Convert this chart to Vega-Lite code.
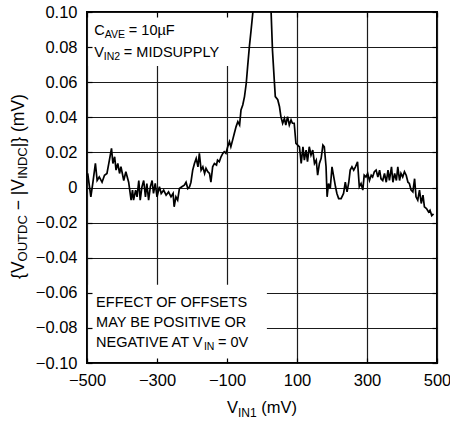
{
  "$schema": "https://vega.github.io/schema/vega-lite/v6.json",
  "width": 350,
  "height": 351,
  "autosize": "none",
  "padding": {"left": 87, "top": 12, "right": 13, "bottom": 59},
  "background": "white",
  "config": {
    "view": {"stroke": "black", "strokeWidth": 2},
    "font": "Liberation Sans",
    "text": {"font": "Liberation Sans", "color": "black", "baseline": "alphabetic", "align": "left"}
  },
  "resolve": {"axis": {"x": "independent", "y": "independent"}},
  "datasets": {
    "curve": [
      {"v":-498,"d":0.008},{"v":-489,"d":-0.0053},{"v":-483,"d":0.003},{"v":-476,"d":0.0137},{"v":-471,"d":0.004},{"v":-465,"d":0.006},{"v":-457,"d":0.003},{"v":-450,"d":0.007},{"v":-443,"d":0.008},{"v":-436,"d":0.0156},{"v":-430,"d":0.0223},{"v":-426,"d":0.0137},{"v":-421,"d":0.0175},{"v":-417,"d":0.0099},{"v":-412,"d":0.0137},{"v":-407,"d":0.008},{"v":-403,"d":0.0118},{"v":-395,"d":0.004},{"v":-389,"d":0.009},{"v":-381,"d":0.003},{"v":-374,"d":-0.0072},{"v":-370,"d":-0.0015},{"v":-367,"d":-0.0072},{"v":-361,"d":-0.0015},{"v":-357,"d":-0.0053},{"v":-352,"d":0.004},{"v":-348,"d":-0.0072},{"v":-343,"d":0.0004},{"v":-338,"d":0.004},{"v":-333,"d":-0.0053},{"v":-329,"d":0.0023},{"v":-324,"d":-0.0072},{"v":-319,"d":0.0004},{"v":-314,"d":0.004},{"v":-310,"d":-0.0034},{"v":-305,"d":0.0023},{"v":-300,"d":-0.0053},{"v":-293,"d":0.0004},{"v":-288,"d":-0.0034},{"v":-281,"d":-0.0015},{"v":-274,"d":-0.0044},{"v":-267,"d":-0.0025},{"v":-260,"d":-0.0053},{"v":-254,"d":-0.0034},{"v":-251,"d":-0.011},{"v":-246,"d":-0.0053},{"v":-241,"d":-0.0072},{"v":-236,"d":-0.0006},{"v":-229,"d":0.0004},{"v":-222,"d":0.0013},{"v":-217,"d":0.003},{"v":-212,"d":-0.0006},{"v":-207,"d":0.0004},{"v":-203,"d":0.003},{"v":-198,"d":0.0099},{"v":-193,"d":0.0137},{"v":-188,"d":0.0166},{"v":-183,"d":0.0118},{"v":-179,"d":0.0194},{"v":-174,"d":0.0099},{"v":-169,"d":0.0118},{"v":-164,"d":0.008},{"v":-160,"d":0.0109},{"v":-155,"d":0.009},{"v":-150,"d":0.008},{"v":-146,"d":0.003},{"v":-141,"d":0.0118},{"v":-136,"d":0.0137},{"v":-130,"d":0.0128},{"v":-127,"d":0.0156},{"v":-122,"d":0.0147},{"v":-117,"d":0.0175},{"v":-112,"d":0.0194},{"v":-108,"d":0.0204},{"v":-103,"d":0.0194},{"v":-98,"d":0.0232},{"v":-93,"d":0.0261},{"v":-89,"d":0.0232},{"v":-84,"d":0.027},{"v":-79,"d":0.0309},{"v":-74,"d":0.0347},{"v":-69,"d":0.0375},{"v":-64,"d":0.0356},{"v":-60,"d":0.0442},{"v":-55,"d":0.047},{"v":-50,"d":0.0518},{"v":-45,"d":0.0594},{"v":-41,"d":0.069},{"v":-36,"d":0.0804},{"v":-31,"d":0.09},{"v":-26,"d":0.1},{"v":-15,"d":0.14},{"v":0,"d":0.17},{"v":15,"d":0.14},{"v":26,"d":0.1},{"v":30,"d":0.078},{"v":35,"d":0.0613},{"v":38,"d":0.0518},{"v":45,"d":0.05},{"v":50,"d":0.046},{"v":54,"d":0.0404},{"v":59,"d":0.0366},{"v":64,"d":0.0394},{"v":68,"d":0.0356},{"v":73,"d":0.0404},{"v":78,"d":0.0356},{"v":83,"d":0.0385},{"v":87,"d":0.0366},{"v":92,"d":0.0366},{"v":97,"d":0.0251},{"v":102,"d":0.0242},{"v":107,"d":0.0232},{"v":112,"d":0.0137},{"v":117,"d":0.0232},{"v":121,"d":0.0156},{"v":126,"d":0.0213},{"v":130,"d":0.0147},{"v":135,"d":0.0232},{"v":140,"d":0.0185},{"v":145,"d":0.0213},{"v":150,"d":0.0137},{"v":155,"d":0.0156},{"v":159,"d":0.007},{"v":164,"d":0.0137},{"v":169,"d":0.0166},{"v":174,"d":0.0242},{"v":178,"d":0.0232},{"v":183,"d":0.0118},{"v":186,"d":-0.0053},{"v":190,"d":0.0023},{"v":195,"d":-0.0006},{"v":200,"d":0.0118},{"v":205,"d":0.006},{"v":210,"d":0.0004},{"v":214,"d":-0.0034},{"v":219,"d":-0.0063},{"v":226,"d":-0.0063},{"v":233,"d":-0.0034},{"v":238,"d":0.003},{"v":243,"d":-0.0025},{"v":248,"d":0.003},{"v":252,"d":0.0099},{"v":257,"d":0.0118},{"v":262,"d":0.0099},{"v":267,"d":0.0118},{"v":273,"d":0.0147},{"v":278,"d":0.0004},{"v":283,"d":0.0023},{"v":288,"d":-0.0015},{"v":292,"d":0.007},{"v":297,"d":0.006},{"v":302,"d":0.008},{"v":307,"d":0.004},{"v":312,"d":0.007},{"v":316,"d":0.006},{"v":321,"d":0.009},{"v":326,"d":0.0099},{"v":331,"d":0.006},{"v":336,"d":0.0099},{"v":340,"d":0.005},{"v":345,"d":0.004},{"v":350,"d":0.008},{"v":355,"d":0.003},{"v":360,"d":0.0099},{"v":364,"d":0.004},{"v":370,"d":0.0118},{"v":374,"d":0.003},{"v":379,"d":0.008},{"v":384,"d":0.004},{"v":388,"d":0.0118},{"v":393,"d":0.004},{"v":397,"d":0.008},{"v":402,"d":0.006},{"v":407,"d":0.009},{"v":412,"d":0.007},{"v":417,"d":0.003},{"v":421,"d":0.0023},{"v":426,"d":-0.0015},{"v":431,"d":-0.0025},{"v":436,"d":0.005},{"v":440,"d":-0.0053},{"v":445,"d":-0.0072},{"v":450,"d":-0.0015},{"v":455,"d":-0.0091},{"v":460,"d":-0.0044},{"v":464,"d":-0.011},{"v":470,"d":-0.012},{"v":476,"d":-0.014},{"v":480,"d":-0.013},{"v":485,"d":-0.016},{"v":490,"d":-0.015}
    ],
    "one": [{}]
  },
  "layer": [
    {
      "data": {"name": "curve"},
      "mark": {"type": "line", "clip": true, "color": "black", "strokeWidth": 1.7},
      "encoding": {
        "x": {"field": "v", "type": "quantitative",
          "scale": {"domain": [-500, 500], "nice": false, "zero": false},
          "axis": {"orient": "bottom", "title": null, "values": [-500, -300, -100, 100, 300, 500], "tickCount": 11, "grid": true, "gridColor": "#1a1a1a", "gridWidth": 1.2, "gridOpacity": 1, "domain": false, "ticks": false, "labelPadding": 9, "labelFontSize": 16.5, "labelColor": "black", "labelFont": "Liberation Sans", "labelFlush": false, "labelOverlap": false}},
        "y": {"field": "d", "type": "quantitative",
          "scale": {"domain": [-0.1, 0.1], "nice": false, "zero": false},
          "axis": {"orient": "left", "title": null, "values": [-0.1, -0.08, -0.06, -0.04, -0.02, 0, 0.02, 0.04, 0.06, 0.08, 0.1], "tickCount": 11, "labelExpr": "datum.value == 0 ? '0' : format(datum.value, '.2f')", "grid": true, "gridColor": "#1a1a1a", "gridWidth": 1.2, "gridOpacity": 1, "domain": false, "ticks": false, "labelPadding": 10, "labelFontSize": 16.5, "labelColor": "black", "labelFont": "Liberation Sans", "labelFlush": false, "labelOverlap": false}}
      }
    },
    {
      "data": {"name": "one"},
      "mark": {"type": "rect", "fill": "white"},
      "encoding": {"x": {"datum": -496, "axis": null}, "x2": {"datum": -62}, "y": {"datum": 0.0693, "axis": null}, "y2": {"datum": 0.0991}}
    },
    {
      "data": {"name": "one"},
      "mark": {"type": "rect", "fill": "white"},
      "encoding": {"x": {"datum": -496, "axis": null}, "x2": {"datum": 14}, "y": {"datum": -0.0991, "axis": null}, "y2": {"datum": -0.0554}}
    },
    {
      "data": {"name": "one"},
      "mark": {"type": "point", "opacity": 0},
      "encoding": {
        "x": {"datum": 0, "axis": {"orient": "bottom", "title": null, "values": [-500, -300, -100, 100, 300, 500], "tickCount": 11, "grid": false, "labels": false, "domain": false, "ticks": true, "tickSize": -5, "tickColor": "black", "tickWidth": 1.2, "zindex": 1}},
        "y": {"datum": 0, "axis": {"orient": "left", "title": null, "values": [-0.1, -0.08, -0.06, -0.04, -0.02, 0, 0.02, 0.04, 0.06, 0.08, 0.1], "tickCount": 11, "grid": false, "labels": false, "domain": false, "ticks": true, "tickSize": -5, "tickColor": "black", "tickWidth": 1.2, "zindex": 1}}
      }
    },
    {
      "data": {"name": "one"},
      "mark": {"type": "point", "opacity": 0},
      "encoding": {
        "x": {"datum": 0, "axis": {"orient": "top", "title": null, "values": [-500, -300, -100, 100, 300, 500], "tickCount": 11, "grid": false, "labels": false, "domain": false, "ticks": true, "tickSize": -5, "tickColor": "black", "tickWidth": 1.2, "zindex": 1}},
        "y": {"datum": 0, "axis": {"orient": "right", "title": null, "values": [-0.1, -0.08, -0.06, -0.04, -0.02, 0, 0.02, 0.04, 0.06, 0.08, 0.1], "tickCount": 11, "grid": false, "labels": false, "domain": false, "ticks": true, "tickSize": -5, "tickColor": "black", "tickWidth": 1.2, "zindex": 1}}
      }
    },
    {"data": {"name": "one"}, "mark": {"type": "text", "text": "C", "fontSize": 14.5}, "encoding": {"x": {"datum": -479, "axis": null}, "y": {"datum": 0.087, "axis": null}}},
    {"data": {"name": "one"}, "mark": {"type": "text", "text": "AVE", "fontSize": 10.5, "dx": 10.5, "dy": 3}, "encoding": {"x": {"datum": -479, "axis": null}, "y": {"datum": 0.087, "axis": null}}},
    {"data": {"name": "one"}, "mark": {"type": "text", "text": "= 10µF", "fontSize": 14.5, "dx": 34.5}, "encoding": {"x": {"datum": -479, "axis": null}, "y": {"datum": 0.087, "axis": null}}},
    {"data": {"name": "one"}, "mark": {"type": "text", "text": "V", "fontSize": 14.5}, "encoding": {"x": {"datum": -479, "axis": null}, "y": {"datum": 0.0742, "axis": null}}},
    {"data": {"name": "one"}, "mark": {"type": "text", "text": "IN2", "fontSize": 10.5, "dx": 9.5, "dy": 3}, "encoding": {"x": {"datum": -479, "axis": null}, "y": {"datum": 0.0742, "axis": null}}},
    {"data": {"name": "one"}, "mark": {"type": "text", "text": "= MIDSUPPLY", "fontSize": 14.5, "dx": 29.5}, "encoding": {"x": {"datum": -479, "axis": null}, "y": {"datum": 0.0742, "axis": null}}},
    {"data": {"name": "one"}, "mark": {"type": "text", "text": "EFFECT OF OFFSETS", "fontSize": 14.5}, "encoding": {"x": {"datum": -474, "axis": null}, "y": {"datum": -0.0682, "axis": null}}},
    {"data": {"name": "one"}, "mark": {"type": "text", "text": "MAY BE POSITIVE OR", "fontSize": 14.5}, "encoding": {"x": {"datum": -474, "axis": null}, "y": {"datum": -0.0797, "axis": null}}},
    {"data": {"name": "one"}, "mark": {"type": "text", "text": "NEGATIVE AT V", "fontSize": 14.5}, "encoding": {"x": {"datum": -474, "axis": null}, "y": {"datum": -0.0911, "axis": null}}},
    {"data": {"name": "one"}, "mark": {"type": "text", "text": "IN", "fontSize": 10.5, "dx": 107.8, "dy": 3}, "encoding": {"x": {"datum": -474, "axis": null}, "y": {"datum": -0.0911, "axis": null}}},
    {"data": {"name": "one"}, "mark": {"type": "text", "text": "= 0V", "fontSize": 14.5, "dx": 121.8}, "encoding": {"x": {"datum": -474, "axis": null}, "y": {"datum": -0.0911, "axis": null}}},
    {"data": {"name": "one"}, "mark": {"type": "text", "text": "V", "fontSize": 16.5, "dy": 50}, "encoding": {"x": {"datum": -100, "axis": null}, "y": {"datum": -0.1, "axis": null}}},
    {"data": {"name": "one"}, "mark": {"type": "text", "text": "IN1", "fontSize": 12, "dx": 11, "dy": 54}, "encoding": {"x": {"datum": -100, "axis": null}, "y": {"datum": -0.1, "axis": null}}},
    {"data": {"name": "one"}, "mark": {"type": "text", "text": "(mV)", "fontSize": 16.5, "dx": 34.3, "dy": 50}, "encoding": {"x": {"datum": -100, "axis": null}, "y": {"datum": -0.1, "axis": null}}},
    {"data": {"name": "one"}, "mark": {"type": "text", "text": "{V", "fontSize": 17.5, "angle": 270, "dy": -63.5}, "encoding": {"x": {"datum": -500, "axis": null}, "y": {"datum": -0.0521, "axis": null}}},
    {"data": {"name": "one"}, "mark": {"type": "text", "text": "OUTDC", "fontSize": 13, "angle": 270, "dx": 17.5, "dy": -60}, "encoding": {"x": {"datum": -500, "axis": null}, "y": {"datum": -0.0521, "axis": null}}},
    {"data": {"name": "one"}, "mark": {"type": "text", "text": "− |V", "fontSize": 17.5, "angle": 270, "dx": 68.6, "dy": -63.5}, "encoding": {"x": {"datum": -500, "axis": null}, "y": {"datum": -0.0521, "axis": null}}},
    {"data": {"name": "one"}, "mark": {"type": "text", "text": "INDC", "fontSize": 13, "angle": 270, "dx": 99.9, "dy": -60}, "encoding": {"x": {"datum": -500, "axis": null}, "y": {"datum": -0.0521, "axis": null}}},
    {"data": {"name": "one"}, "mark": {"type": "text", "text": "|} (mV)", "fontSize": 17.5, "angle": 270, "dx": 131.7, "dy": -63.5}, "encoding": {"x": {"datum": -500, "axis": null}, "y": {"datum": -0.0521, "axis": null}}}
  ]
}
